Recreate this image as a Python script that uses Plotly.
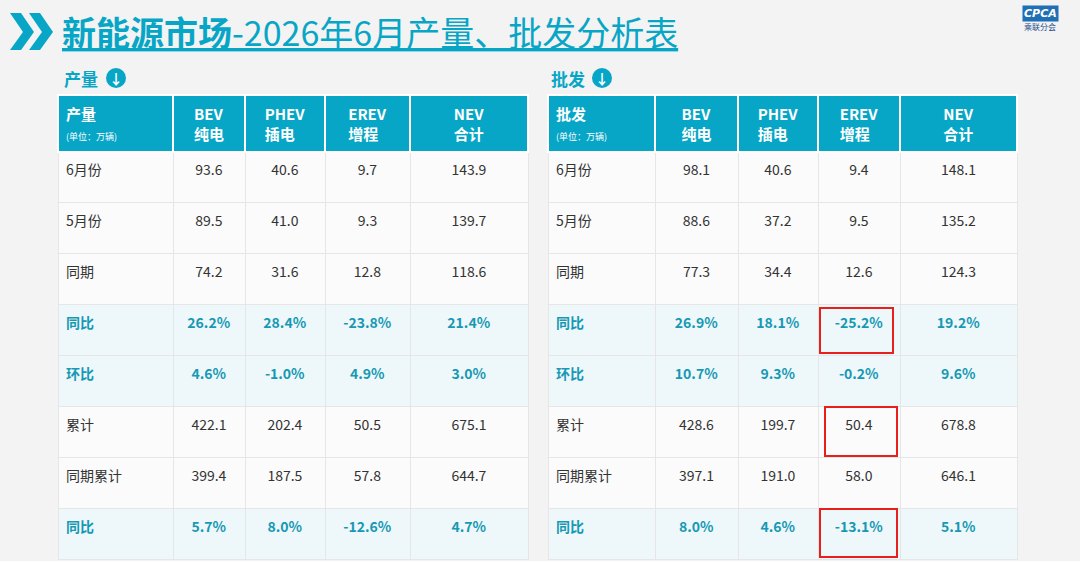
import plotly.graph_objects as go

W, H = 1080, 561
row_labels = ["6月份", "5月份", "同期", "同比", "环比", "累计", "同期累计", "同比"]
ratio_rows = [3, 4, 7]
cols = ["BEV<br>纯电", "PHEV<br>插电", "EREV<br>增程", "NEV<br>合计"]

prod_bev = ["93.6", "89.5", "74.2", "26.2%", "4.6%", "422.1", "399.4", "5.7%"]
prod_phev = ["40.6", "41.0", "31.6", "28.4%", "-1.0%", "202.4", "187.5", "8.0%"]
prod_erev = ["9.7", "9.3", "12.8", "-23.8%", "4.9%", "50.5", "57.8", "-12.6%"]
prod_nev = ["143.9", "139.7", "118.6", "21.4%", "3.0%", "675.1", "644.7", "4.7%"]

whl_bev = ["98.1", "88.6", "77.3", "26.9%", "10.7%", "428.6", "397.1", "8.0%"]
whl_phev = ["40.6", "37.2", "34.4", "18.1%", "9.3%", "199.7", "191.0", "4.6%"]
whl_erev = ["9.4", "9.5", "12.6", "-25.2%", "-0.2%", "50.4", "58.0", "-13.1%"]
whl_nev = ["148.1", "135.2", "124.3", "19.2%", "9.6%", "678.8", "646.1", "5.1%"]

FONT = "Noto Sans CJK SC"
TEAL = "#08a6c6"
TXT_TEAL = "#1798b4"

def px(x): return x / W
def py(y): return 1 - y / H

def make_table(name, data, x0, x1, widths):
    fills = ["#eef8fa" if i in ratio_rows else "#fbfbfb" for i in range(8)]
    colors = [TXT_TEAL if i in ratio_rows else "#333333" for i in range(8)]
    fmt = lambda i, v: "<br>" + (f"<b>{v}</b>" if i in ratio_rows else v)
    vals = [[fmt(i, l) for i, l in enumerate(row_labels)]] + [[fmt(i, v) for i, v in enumerate(c)] for c in data]
    return go.Table(
        domain=dict(x=[px(x0), px(x1)], y=[0, py(95)]),
        columnwidth=widths,
        header=dict(
            values=[f"<b>{name}</b><br><span style='font-size:9px'>(单位：万辆)</span>"] + [f"<b>{c}</b>" for c in cols],
            fill_color=TEAL, line=dict(color="white", width=2),
            font=dict(family=FONT, size=15, color="white"),
            align=["left", "center", "center", "center", "center"], height=55),
        cells=dict(
            values=vals, fill_color=[fills] * 5,
            line=dict(color="#e6e6e6", width=1),
            font=dict(family=FONT, size=14, color=[colors] * 5),
            align=["left", "center", "center", "center", "center"], height=51),
    )

fig = go.Figure()
fig.add_trace(make_table("产量", [prod_bev, prod_phev, prod_erev, prod_nev], 58, 528, [115, 72, 80, 85, 118]))
fig.add_trace(make_table("批发", [whl_bev, whl_phev, whl_erev, whl_nev], 548, 1017, [107, 83, 80, 82, 117]))

shapes = []
for dx in (0, 19):
    x = 10 + dx
    shapes.append(dict(type="path", xref="paper", yref="paper", fillcolor=TEAL, line=dict(width=0),
        path=f"M {px(x)} {py(13)} L {px(x+11)} {py(13)} L {px(x+24)} {py(32)} L {px(x+11)} {py(50)} L {px(x)} {py(50)} L {px(x+13)} {py(32)} Z"))
for (x0, y0, x1, y1) in [(820, 308, 893, 353), (825, 407, 897, 456), (820, 509, 897, 557)]:
    shapes.append(dict(type="rect", xref="paper", yref="paper", x0=px(x0), x1=px(x1), y0=py(y1), y1=py(y0),
                       line=dict(color="#e8201c", width=2)))
for cx in (116, 602):
    shapes.append(dict(type="circle", xref="paper", yref="paper", x0=px(cx - 10), x1=px(cx + 10),
                       y0=py(88), y1=py(68), fillcolor=TEAL, line=dict(width=0)))

ann = [
    dict(x=px(60), y=py(31), text="<u><b>新能源市场</b>-2026年6月产量、批发分析表</u>",
         font=dict(family=FONT, size=34, color=TEAL)),
    dict(x=px(62), y=py(78), text="<b>产量</b>", font=dict(family=FONT, size=17, color=TEAL)),
    dict(x=px(549), y=py(78), text="<b>批发</b>", font=dict(family=FONT, size=17, color=TEAL)),
    dict(x=px(116), y=py(78), text="<b>↓</b>", font=dict(family=FONT, size=14, color="white"), xanchor="center"),
    dict(x=px(602), y=py(78), text="<b>↓</b>", font=dict(family=FONT, size=14, color="white"), xanchor="center"),
    dict(x=px(1040), y=py(13), text="<b><i>CPCA</i></b>", font=dict(family="DejaVu Sans", size=11, color="white"),
         bgcolor="#1f6fb5", xanchor="center"),
    dict(x=px(1040), y=py(26), text="乘联分会", font=dict(family=FONT, size=8, color="#1f4f8a"), xanchor="center"),
]
for a in ann:
    a.setdefault("xanchor", "left")
    a.update(xref="paper", yref="paper", yanchor="middle", showarrow=False)

fig.update_layout(width=W, height=H, margin=dict(l=0, r=0, t=0, b=0),
                  paper_bgcolor="#f3f3f3", plot_bgcolor="#f3f3f3",
                  shapes=shapes, annotations=ann)
fig.write_html("out.html", config={"displayModeBar": False},
               post_script="document.body.style.margin='0';document.body.style.overflow='hidden';")
